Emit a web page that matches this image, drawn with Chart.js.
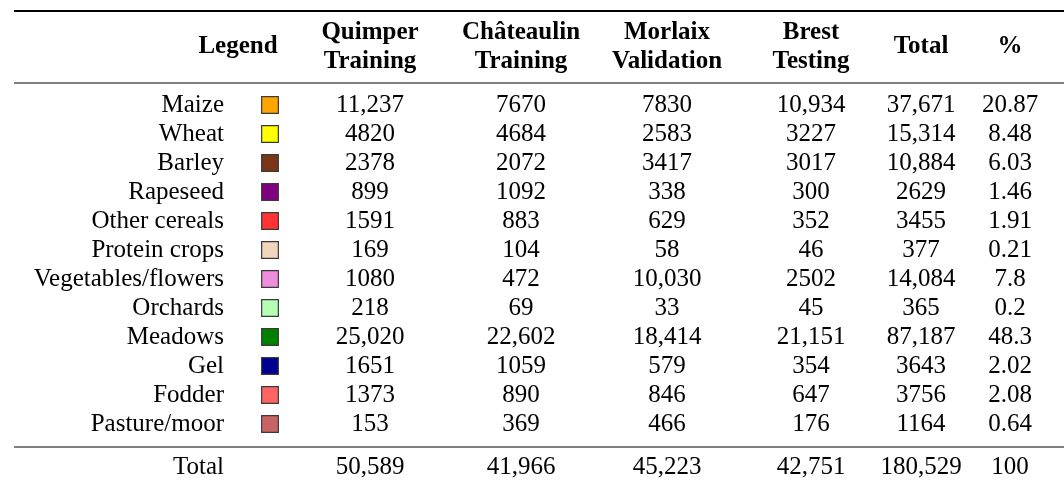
<!DOCTYPE html>
<html lang="en">
<head>
    <meta charset="UTF-8">
    <title>Crop classes per area</title>
    <script src="https://cdn.jsdelivr.net/npm/chart.js"></script>
    <style>
        * {
            margin: 0;
            padding: 0;
            box-sizing: border-box;
        }

        body {
            background: white;
        }

        .table-container {
            width: 1064px;
            height: 487px;
            position: relative;
        }
    </style>
</head>
<body>
    <div class="table-container">
        <canvas id="tableChart"></canvas>
    </div>

    <script>
        // Table data
        const crops = ['Maize', 'Wheat', 'Barley', 'Rapeseed', 'Other cereals', 'Protein crops',
            'Vegetables/flowers', 'Orchards', 'Meadows', 'Gel', 'Fodder', 'Pasture/moor'];
        const cropColors = ['#ffa500', '#ffff00', '#7a3516', '#800080', '#ff3333', '#f2d5bd',
            '#f08cdc', '#b4ffb4', '#008000', '#000090', '#ff6464', '#c86464'];

        const quimper = [11237, 4820, 2378, 899, 1591, 169, 1080, 218, 25020, 1651, 1373, 153];
        const chateaulin = [7670, 4684, 2072, 1092, 883, 104, 472, 69, 22602, 1059, 890, 369];
        const morlaix = [7830, 2583, 3417, 338, 629, 58, 10030, 33, 18414, 579, 846, 466];
        const brest = [10934, 3227, 3017, 300, 352, 46, 2502, 45, 21151, 354, 647, 176];
        const totals = [37671, 15314, 10884, 2629, 3455, 377, 14084, 365, 87187, 3643, 3756, 1164];
        const percents = [20.87, 8.48, 6.03, 1.46, 1.91, 0.21, 7.8, 0.2, 48.3, 2.02, 2.08, 0.64];

        const totalLabel = 'Total';
        const totalRow = [50589, 41966, 45223, 42751, 180529, 100];

        const legendHeader = 'Legend';
        const headers = [['Quimper', 'Training'], ['Châteaulin', 'Training'], ['Morlaix', 'Validation'],
            ['Brest', 'Testing'], ['Total'], ['%']];

        // Layout (x in page units, y in row units)
        const colX = [370, 521, 667, 811, 921, 1010];
        const labelRight = 224;
        const swatchX = 270;
        const legendHeaderX = 238;
        const headerY = -2;
        const totalY = 12.5;
        const rules = [{ y: -3.24, w: 2 }, { y: -0.76, w: 1.1 }, { y: 11.79, w: 1.1 }];
        const ruleLeft = 14;

        const FONT = '"Liberation Serif", "Times New Roman", serif';
        const SIZE = 25;

        function fmt(n) {
            return n >= 10000 ? n.toLocaleString('en-US') : String(n);
        }

        const columns = [quimper, chateaulin, morlaix, brest, totals, percents];

        const tablePlugin = {
            id: 'tableText',
            afterDatasetsDraw(chart) {
                const ctx = chart.ctx;
                const x = chart.scales.x;
                const y = chart.scales.y;
                ctx.save();
                ctx.fillStyle = '#000';
                ctx.textBaseline = 'middle';

                // rules
                ctx.strokeStyle = '#000';
                rules.forEach(r => {
                    ctx.lineWidth = r.w;
                    const py = y.getPixelForValue(r.y);
                    ctx.beginPath();
                    ctx.moveTo(x.getPixelForValue(ruleLeft), py);
                    ctx.lineTo(x.right, py);
                    ctx.stroke();
                });

                // header
                ctx.font = 'bold ' + SIZE + 'px ' + FONT;
                ctx.textAlign = 'center';
                ctx.fillText(legendHeader, x.getPixelForValue(legendHeaderX), y.getPixelForValue(headerY));
                headers.forEach((h, i) => {
                    const px = x.getPixelForValue(colX[i]);
                    h.forEach((line, j) => {
                        const off = j - (h.length - 1) / 2;
                        ctx.fillText(line, px, y.getPixelForValue(headerY + off));
                    });
                });

                // body
                ctx.font = SIZE + 'px ' + FONT;
                crops.forEach((c, r) => {
                    const py = y.getPixelForValue(r);
                    ctx.textAlign = 'right';
                    ctx.fillText(c, x.getPixelForValue(labelRight), py);
                    ctx.textAlign = 'center';
                    columns.forEach((col, i) => {
                        const v = i === 5 ? String(col[r]) : fmt(col[r]);
                        ctx.fillText(v, x.getPixelForValue(colX[i]), py);
                    });
                });

                // total row
                const ty = y.getPixelForValue(totalY);
                ctx.textAlign = 'right';
                ctx.fillText(totalLabel, x.getPixelForValue(labelRight), ty);
                ctx.textAlign = 'center';
                totalRow.forEach((v, i) => {
                    ctx.fillText(fmt(v), x.getPixelForValue(colX[i]), ty);
                });
                ctx.restore();
            }
        };

        const ctx = document.getElementById('tableChart').getContext('2d');
        new Chart(ctx, {
            type: 'scatter',
            data: {
                datasets: [{
                    label: 'Legend',
                    data: crops.map((c, i) => ({ x: swatchX, y: i })),
                    pointStyle: 'rect',
                    pointRadius: 11.8,
                    pointHoverRadius: 11.8,
                    backgroundColor: cropColors,
                    borderColor: '#3a3a3a',
                    borderWidth: 1.2
                }]
            },
            options: {
                responsive: true,
                maintainAspectRatio: false,
                animation: false,
                layout: { padding: 0, autoPadding: false },
                plugins: {
                    legend: { display: false },
                    tooltip: { enabled: false }
                },
                scales: {
                    x: { type: 'linear', display: false, min: 0, max: 1064 },
                    y: { type: 'linear', display: false, reverse: true, min: -3.62, max: 13.17 }
                }
            },
            plugins: [tablePlugin]
        });
    </script>
</body>
</html>
